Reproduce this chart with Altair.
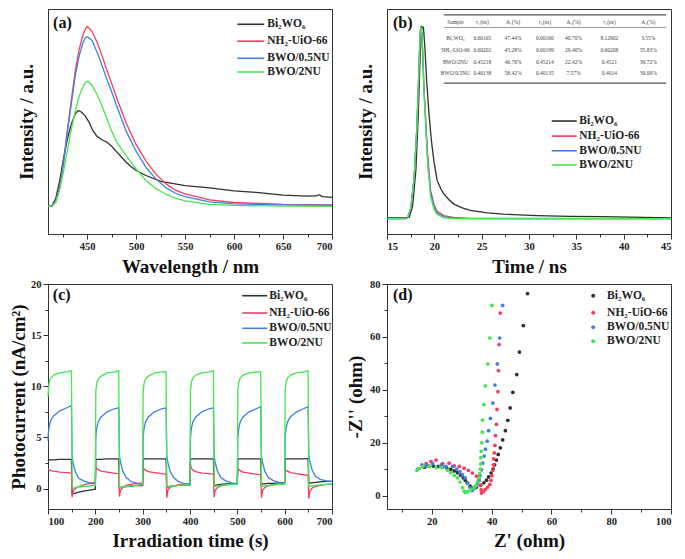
import altair as alt
import pandas as pd

FONT = "Liberation Serif"
SERIES = ["Bi₂WO₆", "NH₂-UiO-66", "BWO/0.5NU", "BWO/2NU"]
COLORS = ["#303030", "#f43c5e", "#3f80e2", "#45e64f"]
W, H = 284, 225

# ---------------- (a) PL spectra ----------------
pl_black_wl = [410, 414, 418, 422, 426, 430, 434, 438, 441, 444, 448, 452, 456, 460, 465, 470, 475, 480, 485, 490,
               495, 500, 510, 525, 550, 575, 600, 625, 650, 675, 684, 687, 690, 700]
pl_black = [12.3, 12.6, 15.9, 23.8, 34.0, 42.6, 49.1, 53.5, 54.9, 54.2, 52.5, 49.6, 45.8, 43.4, 41.9, 40.9, 39.0, 36.6,
            34.2, 31.8, 29.9, 28.2, 26.0, 23.4, 21.5, 20.5, 19.2, 18.4, 17.3, 16.8, 16.9, 17.5, 16.6, 16.3]
pl_wl = [410, 414, 418, 422, 426, 430, 434, 438, 442, 446, 448, 450, 452, 455, 460, 465, 470, 475, 480, 490,
         500, 510, 520, 530, 540, 550, 575, 600, 650, 700]
pl_red = [12.3, 12.4, 14.5, 21.0, 32.5, 47.0, 60.0, 73.0, 82.4, 88.9, 91.0, 92.2, 91.5, 90.0, 85.3, 79.5, 73.0, 66.9,
          60.7, 49.1, 39.7, 32.5, 26.7, 22.4, 19.5, 17.8, 15.2, 14.0, 13.2, 12.9]
pl_blue = [12.3, 12.4, 14.3, 20.7, 31.8, 45.8, 58.5, 70.8, 79.5, 85.3, 87.1, 87.7, 87.1, 86.0, 80.9, 75.1, 68.9, 63.2,
           57.1, 45.5, 36.8, 29.6, 24.6, 20.7, 18.1, 16.6, 14.3, 13.4, 12.9, 12.7]
pl_green = [12.3, 12.4, 14.2, 19.8, 28.2, 37.6, 47.0, 54.9, 61.4, 65.8, 67.2, 67.9, 67.5, 66.0, 62.1, 57.1, 51.3, 45.8,
            40.9, 34.7, 28.9, 23.8, 20.2, 17.8, 15.9, 14.7, 13.2, 12.7, 12.4, 12.3]

# ---------------- (b) TRPL decay ----------------
tr_black_t = [15, 17.0, 17.35, 17.7, 18.05, 18.3, 18.5, 18.67, 18.85, 19.0, 19.2, 19.45, 19.7, 19.97, 20.3, 20.67,
              21.0, 21.55, 22.07, 22.95, 23.8, 25.6, 27.3, 30.8, 34.3, 37.8, 45]
tr_black = [7.2, 7.2, 7.5, 12.3, 28.2, 52.7, 78.8, 92.2, 91.8, 83.1, 67.2, 52.7, 41.2, 31.8, 23.8, 20.2, 17.8, 15.2,
            13.3, 11.6, 10.5, 9.4, 8.8, 8.2, 7.8, 7.7, 7.2]
tr_t = [15, 17.0, 17.17, 17.52, 17.87, 18.15, 18.36, 18.5, 18.57, 18.7, 18.9, 19.27, 19.6, 19.97, 20.3, 21.0, 22.0,
        23.8, 45]
tr_red = [6.8, 6.8, 7.2, 11.6, 25.3, 47.0, 71.5, 88.9, 92.2, 88.9, 65.8, 36.8, 19.5, 13.0, 10.1, 8.2, 7.4, 6.9, 6.8]
tr_blue = [6.8, 6.8, 7.2, 11.6, 25.3, 47.0, 71.5, 88.9, 92.2, 88.6, 65.0, 34.7, 18.1, 12.0, 9.4, 7.7, 7.1, 6.8, 6.8]
tr_green = [6.8, 6.8, 7.2, 11.6, 25.3, 47.0, 71.5, 88.9, 92.2, 88.2, 64.3, 32.5, 16.6, 10.8, 8.7, 7.2, 6.8, 6.8, 6.8]

TBL_HEADER = ["Sample", "τ₁(ns)", "A₁(%)", "τ₂(ns)", "A₂(%)", "τ₃(ns)", "A₃(%)"]
TBL_ROWS = [
    ["Bi₂WO₆", "0.60165", "47.44%", "0.60160", "40.70%", "8.12902", "3.55%"],
    ["NH₂-UiO-66", "0.60202", "45.28%", "0.60199", "29.40%", "0.60208", "35.83%"],
    ["BWO/2NU", "0.45218", "46.76%", "0.45214", "22.42%", "0.4521", "39.72%"],
    ["BWO/0.5NU", "0.40138", "58.42%", "0.40135", "7.57%", "0.4014", "39.09%"],
]

# ---------------- (c) photocurrent ----------------
pc_cycle_starts = [100, 200, 300, 400, 500, 600]
pc_offsets = [0, 1, 3, 6, 12, 25, 40, 49.5, 51, 53, 58, 65, 75, 88, 99.5]
pc_black = [
    [2.75, 2.8, 2.8, 2.8, 2.8, 2.85, 2.85, 2.85, -0.55, -0.5, -0.45, -0.35, -0.25, -0.15, -0.05],
    [-0.05, 2.8, 2.85, 2.85, 2.85, 2.9, 2.9, 2.9, 0.05, 0.1, 0.15, 0.2, 0.25, 0.3, 0.3],
    [0.3, 2.85, 2.9, 2.9, 2.9, 2.9, 2.9, 2.9, 0.1, 0.15, 0.2, 0.25, 0.3, 0.35, 0.35],
    [0.35, 2.85, 2.9, 2.9, 2.9, 2.9, 2.9, 2.9, 0.25, 0.3, 0.35, 0.4, 0.45, 0.45, 0.5],
    [0.5, 2.85, 2.9, 2.9, 2.9, 2.9, 2.9, 2.9, 0.4, 0.45, 0.45, 0.5, 0.5, 0.55, 0.55],
    [0.55, 2.85, 2.9, 2.9, 2.9, 2.9, 2.9, 2.95, 0.5, 0.55, 0.55, 0.6, 0.65, 0.7, 0.7],
]
pc_red = [
    [1.9, 1.9, 1.8, 1.75, 1.7, 1.6, 1.55, 1.5, -0.85, -0.3, 0.0, 0.2, 0.35, 0.5, 0.6],
    [0.6, 2.1, 1.95, 1.85, 1.7, 1.6, 1.5, 1.45, -0.8, -0.2, 0.1, 0.3, 0.4, 0.5, 0.55],
    [0.55, 2.1, 1.9, 1.8, 1.65, 1.55, 1.45, 1.4, -0.9, -0.2, 0.1, 0.25, 0.35, 0.45, 0.5],
    [0.5, 2.4, 2.0, 1.8, 1.65, 1.5, 1.45, 1.4, -0.85, -0.2, 0.1, 0.25, 0.35, 0.4, 0.45],
    [0.45, 2.0, 1.85, 1.75, 1.6, 1.5, 1.4, 1.35, -0.9, -0.2, 0.1, 0.25, 0.35, 0.4, 0.45],
    [0.45, 1.85, 1.75, 1.7, 1.55, 1.45, 1.35, 1.3, -1.0, -0.3, 0.05, 0.2, 0.3, 0.4, 0.45],
]
pc_blue = [
    [4.7, 5.5, 6.2, 6.7, 7.1, 7.6, 7.9, 8.1, 3.1, 2.5, 1.6, 1.0, 0.75, 0.55, 0.45],
    [0.45, 5.0, 5.9, 6.5, 7.0, 7.5, 7.8, 7.9, 3.2, 2.6, 1.7, 1.1, 0.7, 0.5, 0.4],
    [0.4, 5.0, 5.9, 6.5, 7.0, 7.5, 7.8, 7.9, 3.2, 2.6, 1.7, 1.1, 0.7, 0.45, 0.35],
    [0.35, 5.0, 5.9, 6.5, 7.0, 7.5, 7.8, 7.9, 3.2, 2.6, 1.7, 1.1, 0.75, 0.55, 0.45],
    [0.45, 5.0, 5.9, 6.5, 7.0, 7.5, 7.8, 8.0, 3.2, 2.6, 1.7, 1.1, 0.8, 0.6, 0.55],
    [0.55, 5.0, 5.9, 6.5, 7.0, 7.5, 7.8, 8.0, 3.3, 2.7, 1.8, 1.2, 0.9, 0.75, 0.7],
]
pc_green = [
    [9.0, 9.8, 10.5, 10.8, 11.1, 11.3, 11.4, 11.5, 0.3, 0.0, 0.1, 0.15, 0.2, 0.25, 0.3],
    [0.3, 9.5, 10.3, 10.7, 11.0, 11.3, 11.4, 11.5, 0.2, 0.1, 0.15, 0.2, 0.25, 0.3, 0.35],
    [0.35, 9.5, 10.3, 10.7, 11.0, 11.3, 11.4, 11.4, 0.2, 0.15, 0.2, 0.25, 0.3, 0.35, 0.4],
    [0.4, 9.6, 10.4, 10.8, 11.1, 11.3, 11.4, 11.5, 0.3, 0.2, 0.25, 0.3, 0.35, 0.4, 0.4],
    [0.4, 9.6, 10.4, 10.8, 11.1, 11.3, 11.4, 11.4, 0.3, 0.2, 0.25, 0.3, 0.35, 0.4, 0.4],
    [0.4, 9.6, 10.4, 10.8, 11.1, 11.3, 11.4, 11.5, 0.3, 0.2, 0.25, 0.3, 0.35, 0.4, 0.4],
]

# ---------------- (d) Nyquist ----------------
eis_black_x = [17.5, 19.0, 20.5, 22.0, 23.5, 25.0, 26.3, 27.5, 28.6, 29.6, 30.5, 31.2, 31.8, 32.8, 33.8, 34.9, 36.3,
               37.4, 38.3, 39.0, 39.8, 40.5, 41.0, 41.6, 42.2, 42.9, 43.7, 44.6, 45.4, 46.2, 47.1, 48.4, 49.3, 50.6, 52.0]
eis_black_y = [10.8, 11.2, 11.2, 11.0, 10.8, 10.5, 10.0, 9.4, 8.7, 7.8, 6.8, 5.9, 4.9, 3.6, 3.1, 3.2, 3.9, 4.9, 5.9,
               7.1, 8.6, 10.1, 11.7, 13.5, 15.6, 18.1, 21.1, 24.6, 28.5, 33.2, 39.1, 45.8, 54.3, 64.3, 76.4]
eis_red_x = [17.0, 18.1, 19.7, 21.4, 23.6, 25.8, 27.5, 29.2, 30.8, 32.2, 33.6, 34.9, 35.8, 36.3, 36.5, 36.6, 37.2, 37.9,
             38.7, 39.4, 39.8, 40.1, 40.4, 40.6, 40.7, 40.9, 41.1, 41.3, 41.6, 41.8, 42.1, 42.3, 42.5, 42.9]
eis_red_y = [11.0, 12.1, 12.9, 13.5, 12.1, 12.3, 11.3, 11.1, 10.4, 9.6, 8.6, 7.4, 5.9, 4.0, 2.2, 1.0, 1.5, 2.4, 3.3,
             4.3, 5.8, 7.6, 9.6, 11.7, 13.9, 16.2, 19.0, 22.7, 27.0, 32.6, 39.3, 47.3, 57.1, 69.0]
eis_blue_x = [15.3, 16.7, 18.1, 20.3, 23.1, 24.7, 26.9, 28.3, 29.4, 30.2, 31.1, 32.0, 32.8, 33.4, 34.0, 34.6, 35.2,
              35.7, 36.1, 36.6, 37.0, 37.5, 37.9, 38.5, 39.0, 39.6, 40.4, 41.1, 41.9, 42.7, 43.7]
eis_blue_y = [10.1, 11.7, 11.3, 12.1, 11.7, 11.1, 11.1, 10.1, 9.1, 8.0, 6.8, 4.9, 3.1, 1.9, 2.6, 3.4, 4.5, 5.8, 7.6,
              9.8, 12.3, 15.0, 17.6, 20.6, 24.6, 29.2, 35.0, 41.8, 49.8, 59.6, 71.9]
eis_green_x = [15.0, 15.8, 17.0, 19.2, 21.4, 23.4, 25.3, 26.4, 27.5, 28.6, 29.4, 30.3, 30.8, 31.2, 32.0, 33.0, 34.0,
               34.8, 35.4, 35.8, 36.0, 36.2, 36.3, 36.4, 36.5, 36.7, 36.9, 37.0, 37.4, 37.9, 38.7, 39.4, 40.1]
eis_green_y = [9.6, 10.3, 11.1, 11.1, 10.6, 10.6, 9.6, 8.7, 7.7, 6.8, 5.2, 3.1, 1.8, 1.2, 1.6, 2.3, 3.0, 3.9, 5.2,
               6.8, 8.4, 10.1, 12.0, 14.4, 16.8, 20.0, 24.0, 28.6, 34.4, 41.5, 49.8, 59.6, 71.9]

# ---------------- helpers ----------------
cscale = alt.Scale(domain=SERIES, range=COLORS)


def qscale(dom):
    return alt.Scale(domain=dom, nice=False, zero=False)


def ticked_axis(title, values, step, pad):
    cond = f"abs(datum.value % {step}) > 0.001"
    return alt.Axis(title=title, values=values,
                    tickSize={"condition": {"test": cond, "value": 3}, "value": 5},
                    labelExpr=f"{cond} ? '' : datum.label", titlePadding=pad)


def plain_y_axis(title, pad):
    return alt.Axis(title=title, labels=False, ticks=False, titlePadding=pad)


def series_df(pairs):
    rows = []
    for name, xs, ys in pairs:
        for x, y in zip(xs, ys):
            rows.append({"x": x, "y": y, "s": name})
    return pd.DataFrame(rows)


def fxf(dom, f):
    return dom[0] + f * (dom[1] - dom[0])


def fyf(dom, f):
    return dom[1] - f * (dom[1] - dom[0])


def annotations(xdom, ydom, xaxis, yaxis, tag, leg_x0, leg_x1, leg_lab, leg_fy, points=False):
    xs, ys = qscale(xdom), qscale(ydom)
    X = lambda f: alt.X(f, scale=xs, axis=xaxis)
    Y = lambda f: alt.Y(f, scale=ys, axis=yaxis)
    leg = pd.DataFrame({
        "s": SERIES,
        "x": [fxf(xdom, leg_x0)] * 4,
        "x1": [fxf(xdom, leg_x1)] * 4,
        "xl": [fxf(xdom, leg_lab)] * 4,
        "y": [fyf(ydom, v) for v in leg_fy],
    })
    col = alt.Color("s:N", scale=cscale, legend=None)
    if points:
        sym = alt.Chart(leg).mark_circle(size=16, opacity=1).encode(x=X("x:Q"), y=Y("y:Q"), color=col)
    else:
        sym = alt.Chart(leg).mark_rule(strokeWidth=1.6).encode(x=X("x:Q"), x2="x1:Q", y=Y("y:Q"), color=col)
    lab = alt.Chart(leg).mark_text(align="left", baseline="middle", font=FONT, fontWeight="bold",
                                   fontSize=11.5, color="#222").encode(x=X("xl:Q"), y=Y("y:Q"), text="s:N")
    tagdf = pd.DataFrame({"x": [fxf(xdom, tag[0])], "y": [fyf(ydom, tag[1])], "t": [tag[2]]})
    tg = alt.Chart(tagdf).mark_text(align="left", baseline="middle", font=FONT, fontWeight="bold",
                                    fontSize=16, color="#111").encode(x=X("x:Q"), y=Y("y:Q"), text="t:N")
    return [sym, lab, tg]


# ---------------- panel (a) ----------------
xa, ya = [410, 700], [0, 100]
ax_a = ticked_axis("Wavelength / nm", list(range(425, 701, 25)), 50, 6)
ay_a = plain_y_axis("Intensity / a.u.", 12)
df_a = series_df([(SERIES[0], pl_black_wl, pl_black), (SERIES[1], pl_wl, pl_red),
                  (SERIES[2], pl_wl, pl_blue), (SERIES[3], pl_wl, pl_green)])
line_a = alt.Chart(df_a).mark_line(strokeWidth=1.3).encode(
    x=alt.X("x:Q", scale=qscale(xa), axis=ax_a),
    y=alt.Y("y:Q", scale=qscale(ya), axis=ay_a),
    color=alt.Color("s:N", scale=cscale, legend=None),
)
pa = alt.layer(line_a, *annotations(xa, ya, ax_a, ay_a, (0.018, 0.06, "(a)"), 0.667, 0.761, 0.772,
                                    [0.068, 0.143, 0.219, 0.28])).properties(width=W, height=H)

# ---------------- panel (b) ----------------
xb, yb = [15, 45], [0, 100]
ax_b = ticked_axis("Time / ns", [15 + 2.5 * i for i in range(13)], 5, 6)
ay_b = plain_y_axis("Intensity / a.u.", 12)
df_b = series_df([(SERIES[0], tr_black_t, tr_black), (SERIES[1], tr_t, tr_red),
                  (SERIES[2], tr_t, tr_blue), (SERIES[3], tr_t, tr_green)])
line_b = alt.Chart(df_b).mark_line(strokeWidth=1.3).encode(
    x=alt.X("x:Q", scale=qscale(xb), axis=ax_b),
    y=alt.Y("y:Q", scale=qscale(yb), axis=ay_b),
    color=alt.Color("s:N", scale=cscale, legend=None),
)
col_fx = [0.241, 0.336, 0.444, 0.556, 0.657, 0.783, 0.92]
row_fy = [0.056, 0.13, 0.182, 0.234, 0.286]
trows = []
for r, row in enumerate([TBL_HEADER] + TBL_ROWS):
    for c, val in enumerate(row):
        trows.append({"x": fxf(xb, col_fx[c]), "y": fyf(yb, row_fy[r]), "t": val})
tbl_text = alt.Chart(pd.DataFrame(trows)).mark_text(
    align="center", baseline="middle", font=FONT, fontSize=5.5, color="#444").encode(
    x=alt.X("x:Q", scale=qscale(xb), axis=ax_b), y=alt.Y("y:Q", scale=qscale(yb), axis=ay_b), text="t:N")
rules_df = pd.DataFrame({"x": [fxf(xb, 0.2)] * 3, "x1": [fxf(xb, 0.983)] * 3,
                         "y": [fyf(yb, f) for f in (0.026, 0.082, 0.329)], "w": [1.3, 0.6, 1.3]})
tbl_rules = alt.Chart(rules_df).mark_rule(color="#555").encode(
    x=alt.X("x:Q", scale=qscale(xb), axis=ax_b), x2="x1:Q",
    y=alt.Y("y:Q", scale=qscale(yb), axis=ay_b), strokeWidth=alt.StrokeWidth("w:Q", scale=None))
pb = alt.layer(line_b, tbl_rules, tbl_text,
               *annotations(xb, yb, ax_b, ay_b, (0.021, 0.06, "(b)"), 0.58, 0.668, 0.677,
                            [0.498, 0.565, 0.63, 0.693])).properties(width=W, height=H)

# ---------------- panel (c) ----------------
xc, yc = [100, 700], [-2, 20]
ax_c = ticked_axis("Irradiation time (s)", list(range(100, 701, 50)), 100, 5)
ay_c = ticked_axis("Photocurrent (nA/cm²)", [2.5 * i for i in range(9)], 5, 2)
crow = []
for name, arr in zip(SERIES, [pc_black, pc_red, pc_blue, pc_green]):
    for start, vals in zip(pc_cycle_starts, arr):
        for off, v in zip(pc_offsets, vals):
            crow.append({"x": start + off, "y": v, "s": name})
df_c = pd.DataFrame(crow)
line_c = alt.Chart(df_c).mark_line(strokeWidth=1.3).encode(
    x=alt.X("x:Q", scale=qscale(xc), axis=ax_c),
    y=alt.Y("y:Q", scale=qscale(yc), axis=ay_c),
    color=alt.Color("s:N", scale=cscale, legend=None),
)
pc = alt.layer(line_c, *annotations(xc, yc, ax_c, ay_c, (0.017, 0.048, "(c)"), 0.684, 0.772, 0.779,
                                    [0.052, 0.129, 0.197, 0.262])).properties(width=W, height=H)

# ---------------- panel (d) ----------------
xd, yd = [5, 100], [-5, 80]
ax_d = ticked_axis("Z' (ohm)", list(range(10, 101, 10)), 20, 5)
ay_d = ticked_axis("-Z'' (ohm)", list(range(0, 81, 10)), 20, 4)
df_d = series_df([(SERIES[0], eis_black_x, eis_black_y), (SERIES[1], eis_red_x, eis_red_y),
                  (SERIES[2], eis_blue_x, eis_blue_y), (SERIES[3], eis_green_x, eis_green_y)])
pts_d = alt.Chart(df_d).mark_circle(size=14, opacity=1).encode(
    x=alt.X("x:Q", scale=qscale(xd), axis=ax_d),
    y=alt.Y("y:Q", scale=qscale(yd), axis=ay_d),
    color=alt.Color("s:N", scale=cscale, legend=None),
)
pdd = alt.layer(pts_d, *annotations(xd, yd, ax_d, ay_d, (0.021, 0.048, "(d)"), 0.726, 0.726, 0.775,
                                    [0.052, 0.128, 0.192, 0.254], points=True)).properties(width=W, height=H)

chart = alt.concat(pa, pb, pc, pdd, columns=2, spacing={"row": 50, "column": 55}).properties(
    bounds="flush", padding={"left": 1, "top": 0, "right": 0, "bottom": 0}
).configure_view(stroke="#333", strokeWidth=1).configure_axis(
    labelFont=FONT, labelFontWeight="bold", labelFontSize=10.5, labelColor="#222", labelPadding=2,
    titleFont=FONT, titleFontWeight="bold", titleFontSize=19, titleColor="#111",
    domainColor="#333", tickColor="#333", grid=False,
)

chart.save("out.html", embed_options={"renderer": "svg", "actions": False})
